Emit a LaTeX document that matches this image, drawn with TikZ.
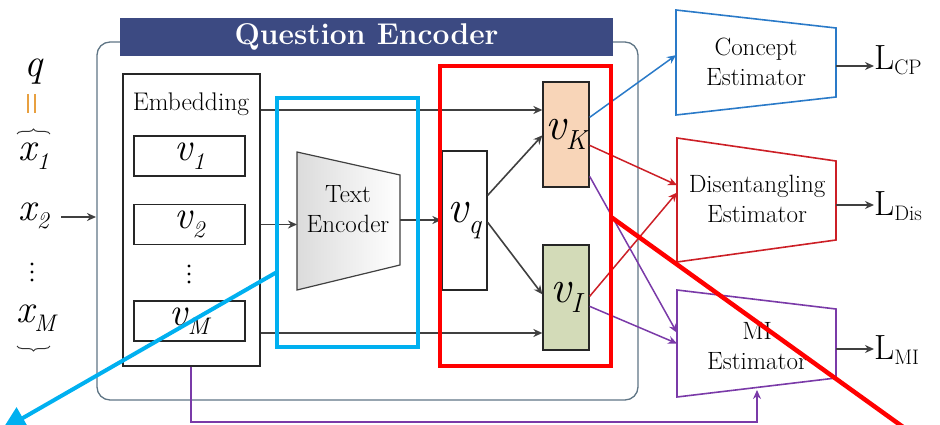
\documentclass[tikz,border=0pt]{standalone}
\usepackage{fontspec}
\usetikzlibrary{arrows.meta,calc,decorations.pathreplacing}
\definecolor{navy}{HTML}{3C4A82}
\definecolor{frame}{HTML}{5F7585}
\definecolor{cyanhl}{HTML}{00B0F0}
\definecolor{redhl}{HTML}{FF0000}
\definecolor{estblue}{HTML}{2A7AC8}
\definecolor{estred}{HTML}{CC1F26}
\definecolor{estpurple}{HTML}{7A3AA8}
\definecolor{flow}{HTML}{404040}
\definecolor{peach}{HTML}{F8D5B8}
\definecolor{sage}{HTML}{D3DBB8}
\definecolor{eqorange}{HTML}{E8A040}
% italic symbol with a lowered, smaller index
\newcommand\symb[2]{{\itshape #1\raisebox{-0.22em}{\scalebox{0.6}{#2}}}}
\newcommand\loss[1]{{\fontsize{35}{35}\selectfont L}\raisebox{-5pt}{\fontsize{21}{21}\selectfont #1}}
% three small vertical dots
\newcommand\vdotsbox{\tikz[x=1pt,y=1pt]{\fill (0,0) circle (1.7) (0,8) circle (1.7) (0,16) circle (1.7);}}
\begin{document}
\begin{tikzpicture}[x=1pt,y=-1pt,
  box/.style={draw=black!85,line width=1.3pt,inner sep=0pt},
  vecbox/.style={box,minimum width=111pt,minimum height=40pt,font=\fontsize{40}{40}\selectfont},
  flowarrow/.style={draw=flow,line width=1.6pt,-{Stealth[length=9pt,width=8pt]}},
  estlabel/.style={align=center,font=\fontsize{25}{30}\selectfont},
  estshape/.style={line width=1.6pt},
  symlabel/.style={font=\fontsize{40}{40}\selectfont,inner sep=0pt}]
\useasboundingbox (0,0) rectangle (940,425);
\clip (0,0) rectangle (940,425);

% encoder frame and title bar
\draw[frame,line width=1.3pt,rounded corners=13pt] (97,42) rectangle (638,400);
\node[fill=navy,minimum width=493pt,minimum height=38pt,inner sep=0pt,
  text=white,font=\bfseries\fontsize{30}{30}\selectfont] (title) at (366.5,37) {Question Encoder};

% input sequence
\node[symlabel] (q) at (33,72) {\symb{q}{}};
\draw[eqorange,line width=1.6pt] (28,94) -- (28,113) (35,94) -- (35,113);
\draw[black!80,line width=1pt,decorate,decoration={brace,amplitude=5pt}] (17,134) -- (50,134);
\node[symlabel] (x1) at (34,156) {\symb{x}{1}};
\node[symlabel] (x2) at (34,216) {\symb{x}{2}};
\node[inner sep=0pt] (xd) at (32,272) {\vdotsbox};
\node[symlabel] (xM) at (36,318) {\symb{x}{M}};
\draw[black!80,line width=1pt,decorate,decoration={brace,amplitude=5pt,mirror}] (17,346) -- (50,346);
\coordinate (fin) at (96,217);
\draw[flowarrow] (61,217) -- (fin);

% embedding table
\node[box,minimum width=137pt,minimum height=292pt] (emb) at (191.5,220) {};
\node[font=\fontsize{25.5}{25.5}\selectfont] (embt) at (191,104) {Embedding};
\node[vecbox] (v1) at (189.5,156) {\symb{v}{1}};
\node[vecbox] (v2) at (189.5,224.5) {\symb{v}{2}};
\node[inner sep=0pt] (vd) at (189,274) {\vdotsbox};
\node[vecbox] (vM) at (189.5,321) {\symb{v}{M}};

% text encoder
\coordinate (teTL) at (297,152);
\coordinate (teTR) at (400,175);
\coordinate (teBR) at (400,265);
\coordinate (teBL) at (297,290);
\shade[left color=black!14,right color=white] (teTL) -- (teTR) -- (teBR) -- (teBL) -- cycle;
\draw[draw=black!75,line width=1.2pt] (teTL) -- (teTR) -- (teBR) -- (teBL) -- cycle;
\node[estlabel] (te) at (348,209) {Text\\Encoder};

% question vector and its two parts
\node[box,minimum width=45pt,minimum height=139pt,font=\fontsize{46}{46}\selectfont] (vq) at (464.5,220.5) {\symb{v}{q}\hspace{2pt}};
\node[box,fill=peach,minimum width=46pt,minimum height=105pt,font=\fontsize{46}{46}\selectfont] (vK) at (566,134.5) {\symb{v}{K}};
\node[box,fill=sage,minimum width=46pt,minimum height=105pt,font=\fontsize{46}{46}\selectfont] (vI) at (566,297.5) {\symb{v}{I}};

% flows inside the encoder
\draw[flowarrow] (emb.east |- 0,110) -- (vK.west |- 0,110);
\draw[flowarrow] (emb.east |- v2) -- (teTL |- v2);
\draw[flowarrow] (emb.east |- 0,333) -- (vI.west |- 0,333);
\draw[flowarrow] (teTR |- 0,220) -- (vq.west |- 0,220);
\draw[flowarrow] ($(vq.north east)+(0,45)$) -- ($(vK.north west)+(0,54)$);
\draw[flowarrow] ($(vq.north east)+(0,72)$) -- ($(vI.north west)+(0,50)$);

% estimators
\coordinate (ceTL) at (676,10);  \coordinate (ceTR) at (836,28);
\coordinate (ceBR) at (836,97);  \coordinate (ceBL) at (676,115);
\draw[estshape,estblue] (ceTL) -- (ceTR) -- (ceBR) -- (ceBL) -- cycle;
\node[estlabel] (ce) at (756,62) {Concept\\Estimator};

\coordinate (deTL) at (677,138); \coordinate (deTR) at (836,161);
\coordinate (deBR) at (836,240); \coordinate (deBL) at (677,262);
\draw[estshape,estred] (deTL) -- (deTR) -- (deBR) -- (deBL) -- cycle;
\node[estlabel] (de) at (757,199) {Disentangling\\Estimator};

\coordinate (miTL) at (677,290); \coordinate (miTR) at (836,309);
\coordinate (miBR) at (836,378); \coordinate (miBL) at (677,397);
\draw[estshape,estpurple] (miTL) -- (miTR) -- (miBR) -- (miBL) -- cycle;
\node[estlabel] (mi) at (757,346) {MI\\Estimator};

% estimator inputs
\draw[estblue,line width=1.5pt,-{Stealth[length=9pt,width=8pt]}]
  ($(vK.north east)+(0,36)$) -- ($(ceTL)!0.43!(ceBL)$);
\draw[estred,line width=1.5pt,-{Stealth[length=9pt,width=8pt]}]
  ($(vK.north east)+(0,64)$) -- ($(deTL)!0.38!(deBL)$);
\draw[estred,line width=1.5pt,-{Stealth[length=9pt,width=8pt]}]
  ($(vI.north east)+(0,52)$) -- ($(deTL)!0.44!(deBL)$);
\draw[estpurple,line width=1.5pt,-{Stealth[length=9pt,width=8pt]}]
  ($(vK.north east)+(0,95)$) -- ($(miTL)!0.40!(miBL)$);
\draw[estpurple,line width=1.5pt,-{Stealth[length=9pt,width=8pt]}]
  ($(vI.north east)+(0,62)$) -- ($(miTL)!0.50!(miBL)$);
\coordinate (miin) at (757,390);
\draw[estpurple,line width=1.5pt,-{Stealth[length=9pt,width=8pt]}]
  (emb.south -| 191,0) -- (191,422) -- (757,422) -- (miin);

% losses
\node[anchor=base west,inner sep=0pt] (lcp) at (874,70) {\loss{CP}};
\node[anchor=base west,inner sep=0pt] (ldis) at (874,215) {\loss{Dis}};
\node[anchor=base west,inner sep=0pt] (lmi) at (874,359) {\loss{MI}};
\draw[flowarrow] (ceTR |- 0,66) -- (lcp.west |- 0,66);
\draw[flowarrow] (deTR |- 0,205) -- (ldis.west |- 0,205);
\draw[flowarrow] (miTR |- 0,349) -- (lmi.west |- 0,349);

% highlight boxes and pointers
\draw[cyanhl,line width=4pt] (277,98) rectangle (418,347);
\coordinate (cyanend) at (2,430);
\draw[cyanhl,line width=4pt,-{Triangle[length=24pt,width=24pt]}] (277,272) -- (cyanend);
\draw[redhl,line width=4.5pt] (440,66) rectangle (611,366);
\coordinate (redend) at (910,432);
\draw[redhl,line width=4.5pt] (611,217) -- (redend);
\end{tikzpicture}
\end{document}
